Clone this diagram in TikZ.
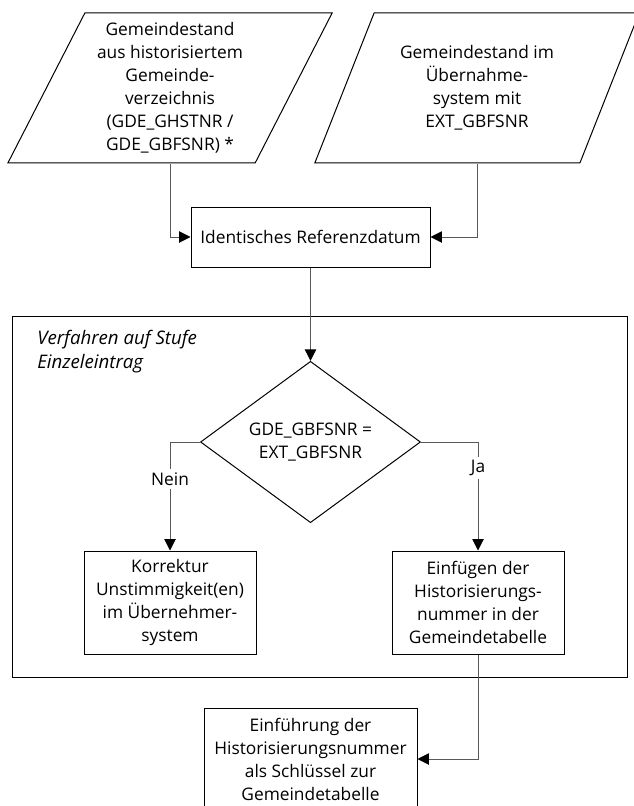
\documentclass[tikz,border=0pt]{standalone}
\usepackage{fontspec}
\setmainfont{Open Sans}
\usetikzlibrary{positioning,shapes.geometric,arrows.meta}

\begin{document}
\begin{tikzpicture}[x=0.75pt,y=-0.75pt,
  nodes={font=\fontsize{13}{17.25}\selectfont,align=center},
  datain/.style={draw,line width=0.75pt,trapezium,trapezium left angle=63.43,
    trapezium right angle=116.57,trapezium stretches=true,
    minimum width=243.75pt,minimum height=112.5pt},
  stepbox/.style={draw,line width=0.75pt,rectangle,minimum width=129pt,minimum height=77.25pt},
  check/.style={draw,line width=0.75pt,diamond,inner sep=0pt,minimum width=165pt,minimum height=97.5pt},
  link/.style={draw=black!65,line width=0.75pt,-{Triangle[length=8.5pt,width=8.5pt,color=black]}},
  flag/.style={fill=white,inner sep=2.5pt}]
  \useasboundingbox (0,0) rectangle (633,806);

  % --- Input data ---
  \node (gdeHist) [datain] at (170,88) {Gemeindestand\\aus historisiertem\\Gemeinde-\\verzeichnis\\(GDE\_GHSTNR /\\GDE\_GBFSNR) *};
  \node (gdeExt) [datain] at (477,88) {Gemeindestand im\\Übernahme-\\system mit\\EXT\_GBFSNR};

  % --- Common reference date ---
  \node (refDate) [stepbox,minimum width=179.25pt,minimum height=45pt] at (310.5,237) {Identisches Referenzdatum};

  % --- Frame: single entry level ---
  \node (stage) [draw,line width=0.75pt,minimum width=461.25pt,minimum height=270.75pt] at (319.5,496.5) {};
  \node (stageTitle) [anchor=north west,inner sep=0pt,align=left,font=\itshape\fontsize{14}{18}\selectfont] at (37,330) {Verfahren auf Stufe\\Einzeleintrag};

  % --- Comparison and outcomes ---
  \node (check) [check] at (310.5,442) {GDE\_GBFSNR =\\EXT\_GBFSNR};
  \node (fix) [stepbox] at (170,602.5) {Korrektur\\Unstimmigkeit(en)\\im Übernehmer-\\system};
  \node (insert) [stepbox,right=101.25pt of fix] {Einfügen der\\Historisierungs-\\nummer in der\\Gemeindetabelle};

  % --- Result ---
  \node (keyIntro) [stepbox,minimum width=159.75pt,minimum height=76.5pt] at (310.5,759) {Einführung der\\Historisierungsnummer\\als Schlüssel zur\\Gemeindetabelle};

  % --- Connectors ---
  \draw[link] (gdeHist.south) |- (refDate.west);
  \draw[link] (gdeExt.south) |- (refDate.east);
  \draw[link] (refDate.south) -- (check.north);
  \draw[link] (check.west) -| node[flag,pos=0.67] {Nein} (fix.north);
  \draw[link] (check.east) -| node[flag,pos=0.62] {Ja} (insert.north);
  \draw[link] (insert.south) |- (keyIntro.east);
\end{tikzpicture}
\end{document}
